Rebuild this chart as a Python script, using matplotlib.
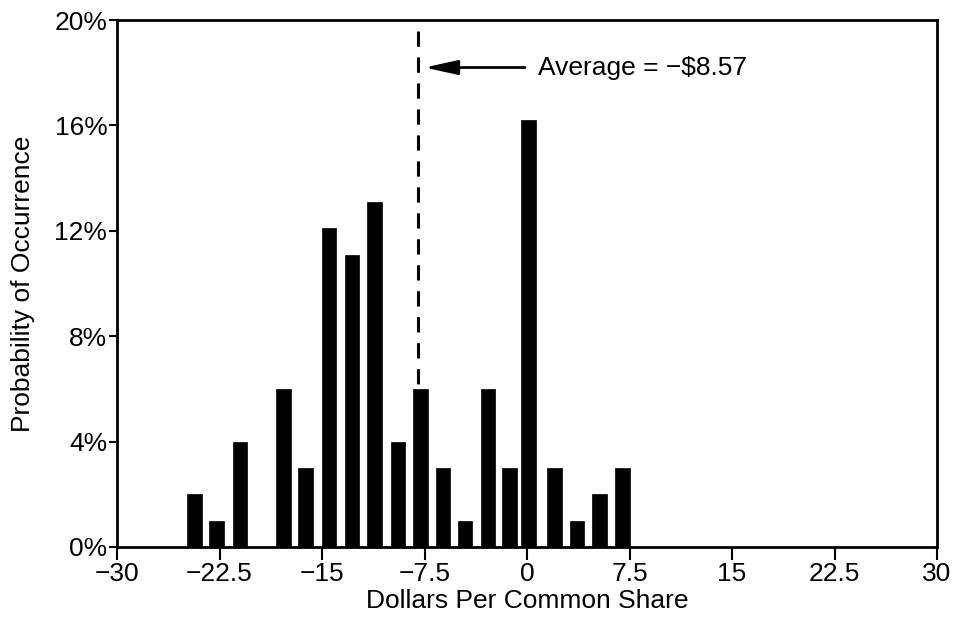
import matplotlib
matplotlib.use("Agg")
import matplotlib.pyplot as plt
from matplotlib.ticker import FuncFormatter

plt.rcParams['font.family'] = ['Liberation Sans', 'DejaVu Sans']

# Data
bin_centers = [-24.35, -22.7, -21.0, -17.8, -16.2, -14.5, -12.8, -11.15, -9.45, -7.8,
               -6.15, -4.55, -2.85, -1.3, 0.1, 2.0, 3.65, 5.3, 7.0]
probabilities = [2, 1, 4, 6, 3, 12.1, 11.1, 13.1, 4, 6,
                 3, 1, 6, 3, 16.2, 3, 1, 2, 3]
x_ticks = [-30, -22.5, -15, -7.5, 0, 7.5, 15, 22.5, 30]
x_tick_labels = ['\u221230', '\u221222.5', '\u221215', '\u22127.5', '0', '7.5', '15', '22.5', '30']
y_ticks = [0, 4, 8, 12, 16, 20]
average_line_x = -8.0
average_label = 'Average = \u2212$8.57'

fig = plt.figure(figsize=(9.57, 6.28), dpi=100)
ax = fig.add_axes([0.1223, 0.129, 0.9791 - 0.1223, 0.968 - 0.129])

ax.bar(bin_centers, probabilities, width=1.07, color='black', edgecolor='black', linewidth=0.5)

# Average dashed line (drawn top-down so the dash pattern starts at the top)
ax.plot([average_line_x, average_line_x], [19.6, 0], color='black', lw=2.2,
        linestyle=(0, (5, 3.5)), zorder=3)

# Arrow and label
ax.annotate('', xy=(-7.5, 18.2), xytext=(-0.15, 18.2),
            arrowprops=dict(arrowstyle='-|>,head_length=1.0,head_width=0.22',
                            lw=2, color='black', mutation_scale=20,
                            shrinkA=0, shrinkB=0))
ax.text(0.8, 18.2, average_label, fontsize=19, va='center', ha='left')

ax.set_xlim(-30, 30)
ax.set_ylim(0, 20)
ax.set_xticks(x_ticks)
ax.set_xticklabels(x_tick_labels)
ax.set_yticks(y_ticks)
ax.yaxis.set_major_formatter(FuncFormatter(lambda v, p: f'{int(v)}%'))

ax.tick_params(axis='x', direction='out', length=9, width=1.5, labelsize=19, pad=2)
ax.tick_params(axis='y', direction='out', length=6, width=1.5, labelsize=19, pad=1)
for s in ax.spines.values():
    s.set_linewidth(2)

ax.set_xlabel('Dollars Per Common Share', fontsize=19, labelpad=2)
ax.set_ylabel('Probability of Occurrence', fontsize=19, labelpad=14)

fig.savefig('out.png', dpi=100)
